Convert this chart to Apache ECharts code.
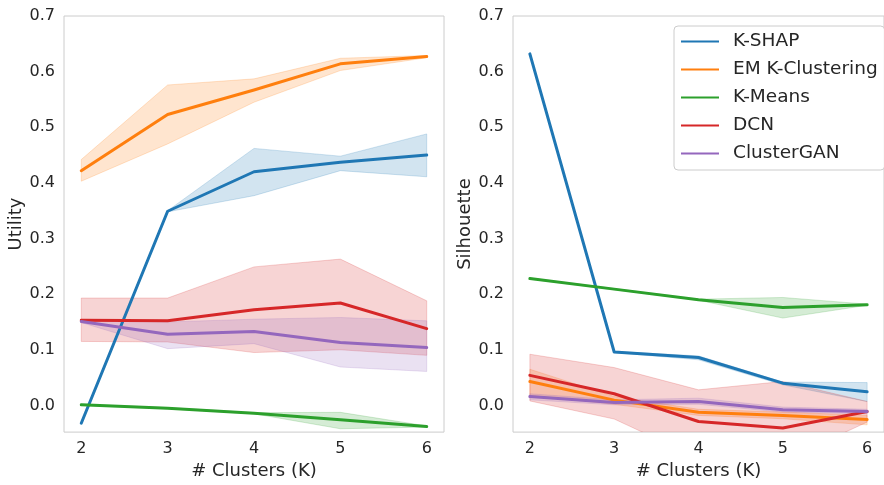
<!DOCTYPE html>
<html>
<head>
<meta charset="utf-8">
<script src="https://cdn.jsdelivr.net/npm/echarts@6/dist/echarts.min.js"></script>
<style>html,body{margin:0;padding:0;background:#fff}#c{width:884px;height:485px}</style>
</head>
<body>
<div id="c"></div>
<script>
// ---- data ----
const clusters = [2, 3, 4, 5, 6];
const methods = ['K-SHAP', 'EM K-Clustering', 'K-Means', 'DCN', 'ClusterGAN'];
const colors = ['#1f77b4', '#ff7f0e', '#2ca02c', '#d62728', '#9467bd'];
const yTicks = [0.0, 0.1, 0.2, 0.3, 0.4, 0.5, 0.6, 0.7];

// Utility (left panel): mean, lower band, upper band
const utilKshap   = [-0.032, 0.349, 0.420, 0.437, 0.450];
const utilKshapLo = [-0.033, 0.348, 0.377, 0.422, 0.411];
const utilKshapHi = [-0.031, 0.350, 0.462, 0.448, 0.488];
const utilEm      = [0.422, 0.523, 0.567, 0.614, 0.627];
const utilEmLo    = [0.403, 0.470, 0.545, 0.602, 0.625];
const utilEmHi    = [0.442, 0.576, 0.587, 0.624, 0.629];
const utilKmeans   = [0.001, -0.005, -0.014, -0.026, -0.038];
const utilKmeansLo = [0.000, -0.006, -0.015, -0.042, -0.039];
const utilKmeansHi = [0.002, -0.004, -0.013, -0.0125, -0.037];
const utilDcn     = [0.153, 0.152, 0.172, 0.184, 0.138];
const utilDcnLo   = [0.115, 0.114, 0.095, 0.100, 0.090];
const utilDcnHi   = [0.193, 0.193, 0.249, 0.263, 0.188];
const utilGan     = [0.151, 0.128, 0.133, 0.113, 0.104];
const utilGanLo   = [0.149, 0.102, 0.111, 0.069, 0.061];
const utilGanHi   = [0.153, 0.150, 0.155, 0.158, 0.152];

// Silhouette (right panel)
const silKshap   = [0.632, 0.096, 0.086, 0.040, 0.0245];
const silKshapLo = [0.631, 0.095, 0.082, 0.037, 0.007];
const silKshapHi = [0.633, 0.097, 0.089, 0.042, 0.041];
const silEm      = [0.043, 0.0095, -0.0125, -0.018, -0.0255];
const silEmLo    = [0.018, 0.002, -0.018, -0.024, -0.035];
const silEmHi    = [0.065, 0.016, -0.007, -0.012, -0.018];
const silKmeans   = [0.228, 0.209, 0.190, 0.176, 0.181];
const silKmeansLo = [0.227, 0.208, 0.189, 0.157, 0.180];
const silKmeansHi = [0.229, 0.210, 0.191, 0.194, 0.182];
const silDcn     = [0.054, 0.021, -0.029, -0.0405, -0.011];
const silDcnLo   = [0.008, -0.0245, -0.095, -0.100, -0.030];
const silDcnHi   = [0.092, 0.068, 0.028, 0.043, 0.007];
const silGan     = [0.016, 0.0054, 0.007, -0.0077, -0.011];
const silGanLo   = [0.010, 0.001, 0.002, -0.012, -0.015];
const silGanHi   = [0.021, 0.010, 0.013, -0.003, -0.007];

const utilPanel = [
  [utilKshap, utilKshapLo, utilKshapHi],
  [utilEm, utilEmLo, utilEmHi],
  [utilKmeans, utilKmeansLo, utilKmeansHi],
  [utilDcn, utilDcnLo, utilDcnHi],
  [utilGan, utilGanLo, utilGanHi]
];
const silPanel = [
  [silKshap, silKshapLo, silKshapHi],
  [silEm, silEmLo, silEmHi],
  [silKmeans, silKmeansLo, silKmeansHi],
  [silDcn, silDcnLo, silDcnHi],
  [silGan, silGanLo, silGanHi]
];

// ---- chart ----
const FONT = 'DejaVu Sans';
const TXT = '#262626';

function hexA(hex, a) {
  const n = parseInt(hex.slice(1), 16);
  return 'rgba(' + (n >> 16 & 255) + ',' + (n >> 8 & 255) + ',' + (n & 255) + ',' + a + ')';
}

function bandSeries(lo, hi, col, idx) {
  const data = clusters.map((x, i) => [x, lo[i], hi[i]]);
  return {
    type: 'custom', xAxisIndex: idx, yAxisIndex: idx, silent: true, clip: true, z: 2,
    data: data,
    renderItem: function (params, api) {
      if (params.dataIndex !== 0) return null;
      const upper = data.map(d => api.coord([d[0], d[2]]));
      const lower = data.map(d => api.coord([d[0], d[1]])).reverse();
      return {
        type: 'polygon',
        shape: { points: upper.concat(lower) },
        style: { fill: hexA(col, 0.2), stroke: hexA(col, 0.2), lineWidth: 1 }
      };
    }
  };
}

function panelSeries(panel, idx) {
  const out = [];
  panel.forEach((trip, m) => {
    const [mean, lo, hi] = trip;
    const col = colors[m];
    out.push({
      type: 'line', name: methods[m], xAxisIndex: idx, yAxisIndex: idx,
      data: clusters.map((x, i) => [x, mean[i]]),
      symbol: 'none', lineStyle: { width: 3, color: col, cap: 'round', join: 'round' },
      itemStyle: { color: col }, z: 3
    });
    out.push(bandSeries(lo, hi, col, idx));
  });
  return out;
}

function xAx(idx) {
  return {
    type: 'value', gridIndex: idx, min: 1.8, max: 6.2,
    name: '# Clusters (K)', nameLocation: 'middle', nameGap: 29,
    nameTextStyle: { fontFamily: FONT, fontSize: 18, color: TXT },
    axisLine: { show: false }, axisTick: { show: false }, splitLine: { show: false },
    axisLabel: { customValues: clusters, fontFamily: FONT, fontSize: 16, color: TXT, margin: 9,
      formatter: v => String(Math.round(v)) }
  };
}
function yAx(idx, name, gap) {
  return {
    type: 'value', gridIndex: idx, min: -0.048, max: 0.7,
    name: name, nameLocation: 'middle', nameGap: gap, nameRotate: 90,
    nameTextStyle: { fontFamily: FONT, fontSize: 18, color: TXT },
    axisLine: { show: false }, axisTick: { show: false }, splitLine: { show: false },
    axisLabel: { customValues: yTicks, fontFamily: FONT, fontSize: 16, color: TXT, margin: 9,
      formatter: v => v.toFixed(1) }
  };
}

const option = {
  backgroundColor: '#ffffff',
  animation: false,
  grid: [
    { left: 64, top: 16, width: 380, height: 419, show: true, borderColor: '#cccccc', borderWidth: 1, backgroundColor: 'transparent' },
    { left: 513, top: 16, width: 380, height: 419, show: true, borderColor: '#cccccc', borderWidth: 1, backgroundColor: 'transparent' }
  ],
  xAxis: [xAx(0), xAx(1)],
  yAxis: [yAx(0, 'Utility', 35.5), yAx(1, 'Silhouette', 38)],
  legend: {
    data: methods.map((n, i) => ({ name: n, itemStyle: { color: colors[i] } })),
    orient: 'vertical', left: 674, top: 26,
    padding: [6, 7, 7, 7], itemGap: 9,
    icon: 'rect', itemWidth: 38, itemHeight: 2,
    backgroundColor: 'rgba(255,255,255,0.8)', borderColor: '#cccccc', borderWidth: 1, borderRadius: 4,
    textStyle: { fontFamily: FONT, fontSize: 18.5, color: TXT, padding: [0, 0, 0, 9] },
    z: 10
  },
  series: [].concat(panelSeries(utilPanel, 0), panelSeries(silPanel, 1))
};

const chart = echarts.init(document.getElementById('c'), null, { renderer: 'canvas' });
chart.setOption(option);
</script>
</body>
</html>
